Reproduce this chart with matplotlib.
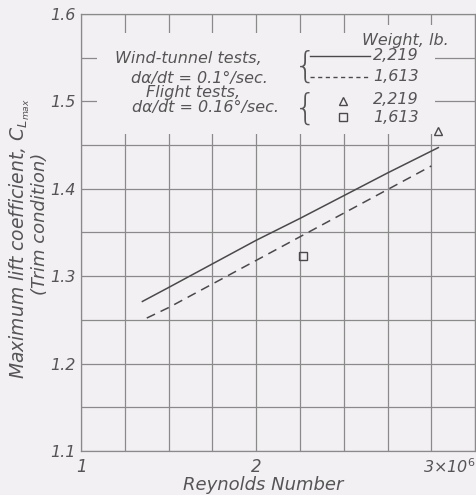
import numpy as np
import matplotlib.pyplot as plt
from matplotlib.patches import Rectangle
from matplotlib.lines import Line2D

# Wind-tunnel tests (Reynolds number in millions, CLmax)
wt_heavy_re = [1.35, 1.50, 1.75, 2.00, 2.25, 2.50, 2.75, 3.04]
wt_heavy_cl = [1.271, 1.287, 1.314, 1.341, 1.366, 1.392, 1.418, 1.447]
wt_light_re = [1.375, 1.50, 1.75, 2.00, 2.25, 2.50, 2.75, 3.00]
wt_light_cl = [1.252, 1.264, 1.291, 1.318, 1.345, 1.372, 1.399, 1.426]

# Flight tests
flight_heavy_re = [3.04]
flight_heavy_cl = [1.466]
flight_light_re = [2.27]
flight_light_cl = [1.323]

x_ticks = [1, 2]
x_tick_labels = ["1", "2"]
y_ticks = [1.1, 1.2, 1.3, 1.4, 1.5, 1.6]
y_tick_labels = ["1.1", "1.2", "1.3", "1.4", "1.5", "1.6"]

BG = "#f3f0f3"
INK = "#4a4a4a"
GRID = "#8a8a8a"
FONT = dict(family="DejaVu Sans", style="oblique", color="#555555")

fig = plt.figure(figsize=(4.77, 4.95), dpi=100, facecolor=BG)
ax = fig.add_axes([0.170, 0.089, 0.826, 0.883])
ax.set_facecolor(BG)

ax.set_xlim(1, 3.25)
ax.set_ylim(1.1, 1.6)

# grid every 0.25 x 10^6 and every 0.05 in CL
ax.set_xticks(np.arange(1, 3.26, 0.25), minor=True)
ax.set_yticks(np.arange(1.1, 1.601, 0.05), minor=True)
ax.set_xticks(x_ticks)
ax.set_xticklabels(x_tick_labels, fontsize=12, **FONT)
ax.set_yticks(y_ticks)
ax.set_yticklabels(y_tick_labels, fontsize=11.5, **FONT)
ax.grid(True, which="both", color=GRID, linewidth=0.9, zorder=1)
ax.set_axisbelow(True)
ax.tick_params(which="both", length=0)
ax.tick_params(axis="x", pad=5)
ax.tick_params(axis="y", pad=4)
for s in ax.spines.values():
    s.set_color(GRID)
    s.set_linewidth(0.9)

ax.text(2.955, 1.1 - 0.0075, "3×10$^6$", fontsize=11.5, ha="left",
        va="top", **FONT)

# plain areas behind the key text
for (x0, y0, w, h) in [(0.041, 0.725, 0.856, 0.232),
                       (0.695, 0.922, 0.297, 0.053)]:
    ax.add_patch(Rectangle((x0, y0), w, h, transform=ax.transAxes,
                           facecolor=BG, edgecolor="none", zorder=2))

ax.plot(wt_heavy_re, wt_heavy_cl, color=INK, linewidth=1.1, zorder=3)
ax.plot(wt_light_re, wt_light_cl, color=INK, linewidth=1.1,
        linestyle=(0, (6, 4)), zorder=3)
ax.plot(flight_heavy_re, flight_heavy_cl, marker="^", markersize=6,
        markerfacecolor="none", markeredgecolor=INK, linestyle="none",
        clip_on=False, zorder=4)
ax.plot(flight_light_re, flight_light_cl, marker="s", markersize=5.5,
        markerfacecolor="none", markeredgecolor=INK, linestyle="none",
        zorder=4)

# key
T = ax.transAxes
KEY = dict(transform=T, fontsize=11.5, va="center", zorder=5, **FONT)
ax.text(0.822, 0.940, "Weight, lb.", ha="center", **KEY)
ax.text(0.272, 0.899, "Wind-tunnel tests,", ha="center", **KEY)
ax.text(0.300, 0.853, "dα/dt = 0.1°/sec.", ha="center", **KEY)
ax.text(0.285, 0.821, "Flight tests,", ha="center", **KEY)
ax.text(0.315, 0.786, "dα/dt = 0.16°/sec.", ha="center", **KEY)
for yb in (0.878, 0.783):
    ax.text(0.570, yb, "{", transform=T, fontsize=26, ha="center",
            va="center", family="DejaVu Sans", weight=200,
            color="#555555", zorder=5)

ax.add_line(Line2D([0.581, 0.734], [0.904, 0.904], transform=T,
                   color=INK, linewidth=1.0, zorder=5))
ax.add_line(Line2D([0.581, 0.734], [0.856, 0.856], transform=T,
                   color=INK, linewidth=1.0, linestyle=(0, (3, 2.5)),
                   zorder=5))
ax.plot([0.665], [0.800], transform=T, marker="^", markersize=6,
        markerfacecolor="none", markeredgecolor=INK, zorder=5)
ax.plot([0.665], [0.764], transform=T, marker="s", markersize=5.5,
        markerfacecolor="none", markeredgecolor=INK, zorder=5)
for (yy, lab) in [(0.904, "2,219"), (0.856, "1,613"),
                  (0.803, "2,219"), (0.764, "1,613")]:
    ax.text(0.741, yy, lab, ha="left", **KEY)

# axis titles
fig.text(263 / 477, 1 - 485 / 495, "Reynolds Number", fontsize=13,
         ha="center", va="center", **FONT)
fig.text(20 / 477, 1 - 238 / 495,
         "Maximum lift coefficient, $\\mathit{C}_{L_{max}}$",
         fontsize=13.5, rotation=90, ha="center", va="center", **FONT)
fig.text(40 / 477, 1 - 224 / 495, "(Trim condition)", fontsize=13,
         rotation=90, ha="center", va="center", **FONT)

fig.savefig("out.png", dpi=100, facecolor=BG)
